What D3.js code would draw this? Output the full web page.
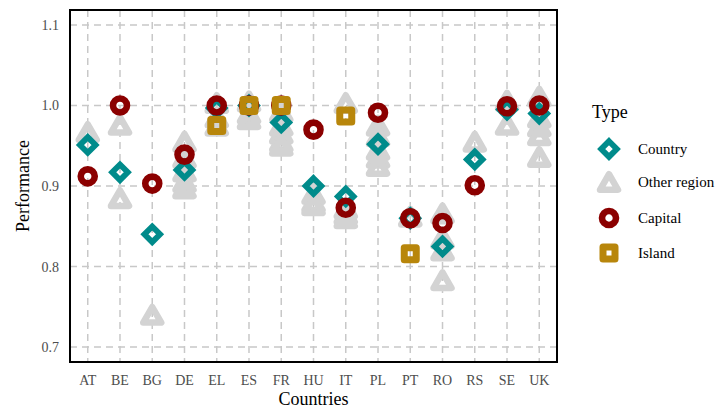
<!DOCTYPE html>
<html>
<head>
<meta charset="utf-8">
<script src="https://cdn.jsdelivr.net/npm/d3@7"></script>
<style>
  body { margin: 0; background: #fff; }
</style>
</head>
<body>
<svg id="chart" width="721" height="410" font-family="'Liberation Serif', 'Times New Roman', serif"></svg>
<script>
// data
const countries = ['AT','BE','BG','DE','EL','ES','FR','HU','IT','PL','PT','RO','RS','SE','UK'];
const countryVals = [0.951, 0.917, 0.840, 0.920, 0.997, 1.000, 0.979, 0.900, 0.887, 0.952, 0.860, 0.825, 0.933, 0.995, 0.990];
const capitalVals = [0.912, 1.000, 0.903, 0.939, 1.000, 1.000, 1.000, 0.970, 0.873, 0.991, 0.860, 0.854, 0.901, 0.999, 1.000];
const islandCountries = ['EL', 'ES', 'FR', 'IT', 'PT'];
const islandVals = [0.975, 1.000, 1.000, 0.987, 0.816];
const otherRegionVals = [
  [0.967],                              // AT
  [0.976, 0.885],                       // BE
  [0.740],                              // BG
  [0.955, 0.935, 0.918, 0.905, 0.897],  // DE
  [1.003, 0.985, 0.975],                // EL
  [1.005, 0.990, 0.983],                // ES
  [0.992, 0.975, 0.965, 0.955, 0.950],  // FR
  [0.890, 0.880, 0.876],                // HU
  [1.003, 0.872, 0.865, 0.860],         // IT
  [0.975, 0.962, 0.945, 0.935, 0.925],  // PL
  [0.862],                              // PT
  [0.866, 0.835, 0.820, 0.783],         // RO
  [0.955],                              // RS
  [1.006, 0.976],                       // SE
  [1.011, 0.985, 0.974, 0.963, 0.936]   // UK
];
const yTicks = [0.7, 0.8, 0.9, 1.0, 1.1];
const types = ['Country', 'Other region', 'Capital', 'Island'];

const colors = { 'Country': '#008b8b', 'Other region': '#d3d3d3', 'Capital': '#8b0000', 'Island': '#b8860b' };

const svg = d3.select('#chart');
const panel = { left: 70, right: 557, top: 10, bottom: 362 };

const x = d3.scalePoint().domain(countries).range([panel.left, panel.right]).padding(0.55);
const y = d3.scaleLinear().domain([0.6814, 1.1186]).range([panel.bottom, panel.top]);

// grid
const grid = svg.append('g').attr('stroke', '#c8c8c8').attr('stroke-width', 1.5).attr('stroke-dasharray', '7,5');
grid.selectAll('.gy').data(yTicks).enter().append('line')
  .attr('x1', panel.left).attr('x2', panel.right)
  .attr('y1', d => y(d)).attr('y2', d => y(d));
grid.selectAll('.gx').data(countries).enter().append('line')
  .attr('x1', d => x(d)).attr('x2', d => x(d))
  .attr('y1', panel.top).attr('y2', panel.bottom);

// marker drawers
function drawMarker(g, type) {
  const c = colors[type];
  if (type === 'Country') {
    g.append('path').attr('d', 'M0,-7.8L7.8,0L0,7.8L-7.8,0Z')
      .attr('fill', 'none').attr('stroke', c).attr('stroke-width', 5.8);
  } else if (type === 'Other region') {
    g.append('path').attr('d', 'M0,-7.8L9,7.8L-9,7.8Z')
      .attr('fill', 'none').attr('stroke', c).attr('stroke-width', 6.5).attr('stroke-linejoin', 'round');
  } else if (type === 'Capital') {
    g.append('circle').attr('r', 7)
      .attr('fill', 'none').attr('stroke', c).attr('stroke-width', 6.6);
  } else {
    g.append('rect').attr('x', -6).attr('y', -6).attr('width', 12).attr('height', 12)
      .attr('fill', 'none').attr('stroke', c).attr('stroke-width', 7).attr('stroke-linejoin', 'round');
  }
}

// points
const others = [];
countries.forEach((c, i) => otherRegionVals[i].forEach(v => others.push({ c: c, v: v })));

svg.append('g').selectAll('g').data(others).enter().append('g')
  .attr('transform', d => `translate(${x(d.c)},${y(d.v)})`)
  .each(function() { drawMarker(d3.select(this), 'Other region'); });

svg.append('g').selectAll('g').data(countries).enter().append('g')
  .attr('transform', (d, i) => `translate(${x(d)},${y(countryVals[i])})`)
  .each(function() { drawMarker(d3.select(this), 'Country'); });

svg.append('g').selectAll('g').data(countries).enter().append('g')
  .attr('transform', (d, i) => `translate(${x(d)},${y(capitalVals[i])})`)
  .each(function() { drawMarker(d3.select(this), 'Capital'); });

svg.append('g').selectAll('g').data(islandCountries).enter().append('g')
  .attr('transform', (d, i) => `translate(${x(d)},${y(islandVals[i])})`)
  .each(function() { drawMarker(d3.select(this), 'Island'); });

// panel border
svg.append('rect')
  .attr('x', panel.left).attr('y', panel.top)
  .attr('width', panel.right - panel.left).attr('height', panel.bottom - panel.top)
  .attr('fill', 'none').attr('stroke', '#000').attr('stroke-width', 2);

// axes labels
svg.append('g').selectAll('text').data(yTicks).enter().append('text')
  .attr('x', 59).attr('y', d => y(d) + 5)
  .attr('text-anchor', 'end').attr('font-size', 14).attr('fill', '#4d4d4d')
  .text(d => d.toFixed(1));

svg.append('g').selectAll('text').data(countries).enter().append('text')
  .attr('x', d => x(d)).attr('y', 385)
  .attr('text-anchor', 'middle').attr('font-size', 14).attr('fill', '#4d4d4d')
  .text(d => d);

svg.append('text').attr('x', (panel.left + panel.right) / 2).attr('y', 405)
  .attr('text-anchor', 'middle').attr('font-size', 18).text('Countries');

svg.append('text').attr('transform', `translate(29,${(panel.top + panel.bottom) / 2}) rotate(-90)`)
  .attr('text-anchor', 'middle').attr('font-size', 18).text('Performance');

// legend
const legend = svg.append('g');
legend.append('text').attr('x', 592).attr('y', 118).attr('font-size', 18).text('Type');
const legendY = [149, 182, 218, 253];
const items = legend.selectAll('.item').data(types).enter().append('g')
  .attr('transform', (d, i) => `translate(609,${legendY[i]})`);
items.each(function(d) { drawMarker(d3.select(this), d); });
items.append('text').attr('x', 29).attr('y', 5).attr('font-size', 15).text(d => d);
</script>
</body>
</html>
